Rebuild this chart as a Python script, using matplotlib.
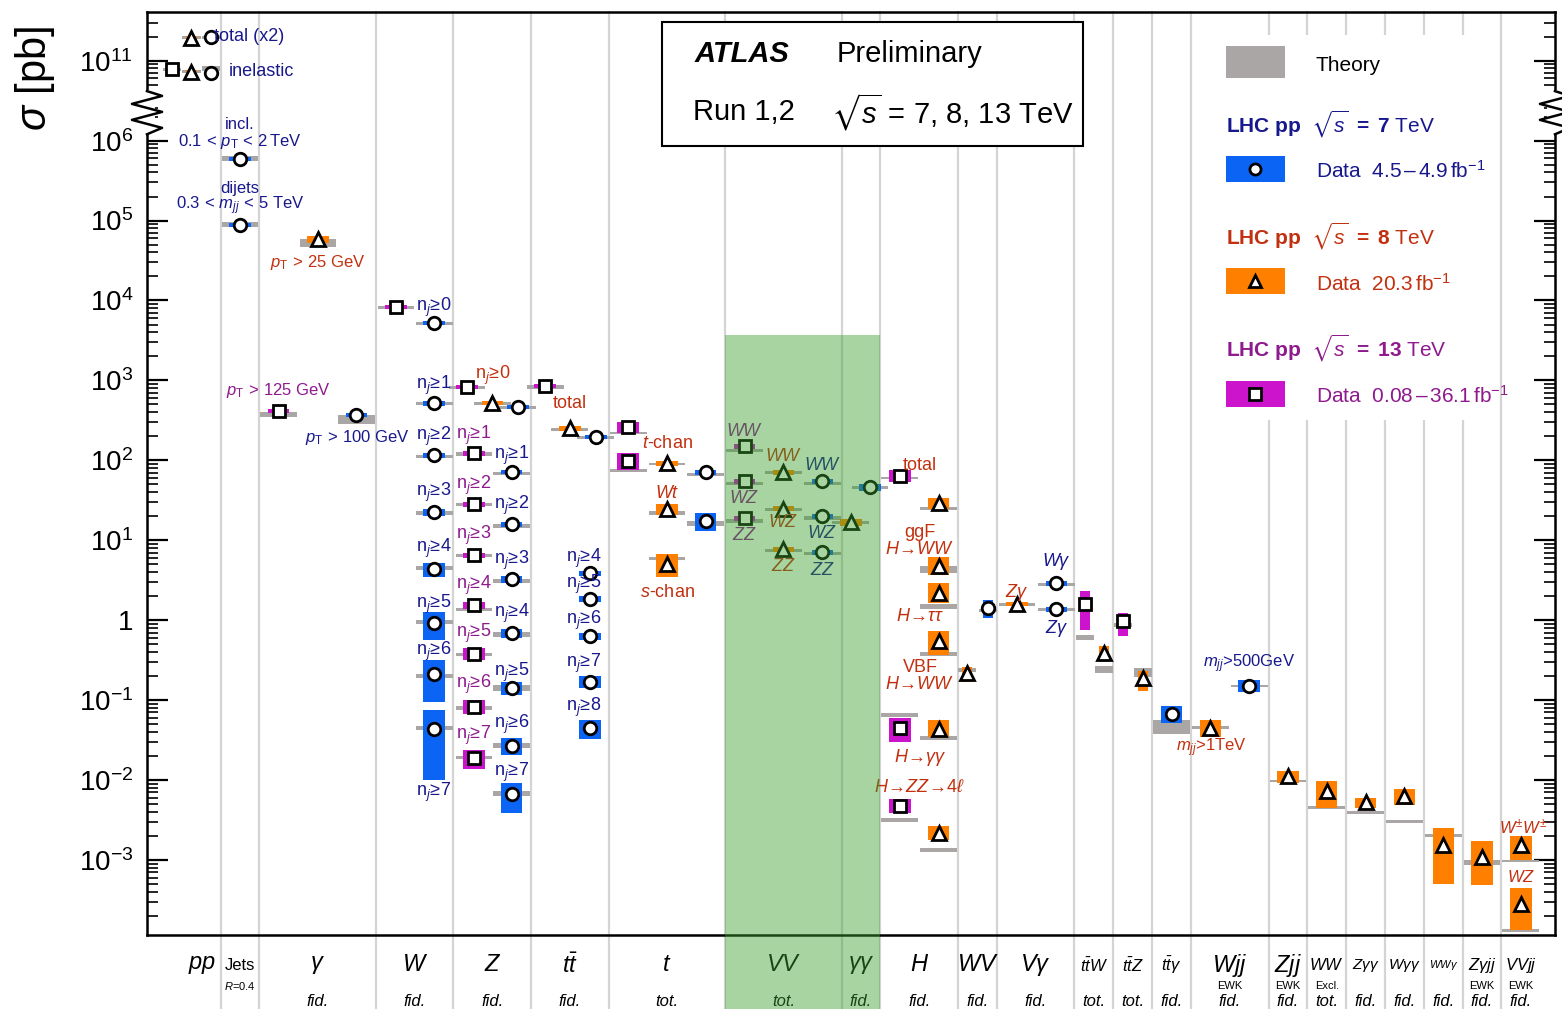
import numpy as np
import matplotlib.pyplot as plt
import matplotlib.transforms as mtransforms
from matplotlib.patches import Rectangle

plt.rcParams['font.family'] = ['Liberation Sans', 'DejaVu Sans']
plt.rcParams['mathtext.fontset'] = 'custom'
plt.rcParams['mathtext.rm'] = 'Liberation Sans'
plt.rcParams['mathtext.it'] = 'Liberation Sans:italic'
plt.rcParams['mathtext.bf'] = 'Liberation Sans:bold'
plt.rcParams['mathtext.sf'] = 'Liberation Sans'
plt.rcParams['mathtext.fallback'] = 'stixsans'

# ---- measurements, one block per centre-of-mass energy ----
# category, column position, sigma [pb], rel. err down/up, theory [pb], rel. theory err
# (pp "total" entries are already scaled x2)
cat_7 = ['pp', 'pp', 'Jets', 'Jets', 'gam',
         'W', 'W', 'W', 'W', 'W', 'W', 'W', 'W',
         'Z', 'Z', 'Z', 'Z', 'Z', 'Z', 'Z', 'Z',
         'tt', 'tt', 'tt', 'tt', 'tt', 'tt',
         't', 't', 'VV', 'VV', 'VV', 'gg', 'WV', 'Vg', 'Vg', 'ttg', 'Wjj']
x_7 = [1.75, 1.75, 2.5, 2.5, 5.5,
       7.5, 7.5, 7.5, 7.5, 7.5, 7.5, 7.5, 7.5,
       9.66, 9.5, 9.5, 9.5, 9.5, 9.5, 9.5, 9.5,
       11.67, 11.52, 11.52, 11.52, 11.52, 11.52,
       14.5, 14.5, 17.5, 17.5, 17.5, 18.73, 21.77, 23.53, 23.53, 26.5, 28.5]
sigma_7 = [1.97e11, 7.0e10, 5.96e5, 8.9e4, 365,
           5160, 516, 115, 22.4, 4.34, 0.917, 0.211, 0.0434,
           460, 70.8, 15.8, 3.25, 0.688, 0.141, 0.0266, 0.00668,
           194, 3.87, 1.83, 0.63, 0.168, 0.0447,
           70.8, 17.3, 54.6, 20.0, 7.08, 46.0, 1.41, 2.9, 1.37, 0.0668, 0.15]
dlo_7 = [0.02, 0.03, 0.06, 0.06, 0.05,
         0.04, 0.06, 0.07, 0.09, 0.19, 0.39, 0.55, 0.77,
         0.04, 0.06, 0.07, 0.09, 0.12, 0.17, 0.22, 0.42,
         0.05, 0.08, 0.08, 0.10, 0.15, 0.28,
         0.08, 0.25, 0.08, 0.08, 0.08, 0.10, 0.25, 0.08, 0.08, 0.22, 0.17]
dhi_7 = [0.02, 0.03, 0.06, 0.06, 0.05,
         0.04, 0.06, 0.07, 0.09, 0.18, 0.37, 0.50, 0.73,
         0.04, 0.06, 0.07, 0.09, 0.12, 0.20, 0.26, 0.38,
         0.05, 0.08, 0.08, 0.10, 0.18, 0.26,
         0.08, 0.26, 0.08, 0.08, 0.08, 0.10, 0.26, 0.08, 0.08, 0.26, 0.20]
theo_7 = [1.96e11, 8.0e10, 5.96e5, 8.9e4, 325,
          5160, 516, 112, 22.0, 4.5, 0.95, 0.20, 0.045,
          460, 68, 15, 3.1, 0.66, 0.141, 0.027, 0.0068,
          194, np.nan, np.nan, np.nan, np.nan, np.nan,
          67, 16.3, 51, 19, 6.8, 46, 1.33, 2.8, 1.35, 0.047, 0.15]
dtheo_7 = [0.02, 0.06, 0.07, 0.07, 0.12,
           0.03, 0.05, 0.05, 0.06, 0.06, 0.06, 0.06, 0.06,
           0.04, 0.05, 0.06, 0.07, 0.08, 0.08, 0.08, 0.08,
           0.05, 0, 0, 0, 0, 0,
           0.04, 0.08, 0.05, 0.05, 0.05, 0.05, 0.05, 0.04, 0.04, 0.19, 0.04]

cat_8 = ['pp', 'pp', 'gam', 'Z', 'tt', 't', 't', 't', 'VV', 'VV', 'VV', 'gg',
         'H', 'H', 'H', 'H', 'H', 'H', 'WV', 'Vg', 'ttW', 'ttZ', 'Wjj', 'Zjj',
         'WWx', 'Zgg', 'Wgg', 'WWg', 'Zgjj', 'VVjj', 'VVjj']
x_8 = [1.25, 1.25, 4.51, 9.0, 11.0, 13.5, 13.5, 13.5, 16.5, 16.5, 16.5, 18.24,
       20.5, 20.5, 20.5, 20.5, 20.5, 20.5, 21.23, 22.52, 24.76, 25.76, 27.5, 29.5,
       30.5, 31.5, 32.5, 33.5, 34.5, 35.5, 35.5]
sigma_8 = [1.93e11, 7.3e10, 5.8e4, 516, 251, 92, 24.4, 5.0, 70.8, 24.8, 7.7, 16.8,
           29.0, 4.73, 2.18, 0.546, 0.0434, 0.00218, 0.218, 1.58, 0.387, 0.188, 0.0447, 0.0112,
           0.00729, 0.0053, 0.0063, 0.00154, 0.00109, 0.00154, 0.000282]
dlo_8 = [0.03, 0.03, 0.09, 0.05, 0.06, 0.07, 0.15, 0.31, 0.07, 0.07, 0.07, 0.10,
         0.15, 0.22, 0.24, 0.33, 0.21, 0.19, 0.22, 0.05, 0.22, 0.31, 0.22, 0.19,
         0.38, 0.16, 0.22, 0.68, 0.56, 0.35, 0.53]
dhi_8 = [0.03, 0.03, 0.10, 0.05, 0.06, 0.07, 0.15, 0.33, 0.07, 0.07, 0.07, 0.10,
         0.18, 0.29, 0.32, 0.33, 0.29, 0.23, 0.19, 0.05, 0.23, 0.23, 0.26, 0.15,
         0.33, 0.12, 0.23, 0.62, 0.59, 0.29, 0.59]
theo_8 = [1.93e11, 7.3e10, 5.3e4, 510, 245, 90, 22, 5.9, 70, 24, 7.5, 16.8,
          25.1, 4.34, 1.5, 0.376, 0.0335, 0.00133, 0.237, 1.55, 0.244, 0.224, 0.045, 0.0097,
          0.00447, 0.00387, 0.0030, 0.0020, 0.00094, 0.00097, 0.00013]
dtheo_8 = [0.02, 0.03, 0.12, 0.04, 0.05, 0.04, 0.06, 0.05, 0.04, 0.04, 0.04, 0.05,
           0.04, 0.10, 0.07, 0.05, 0.05, 0.06, 0.05, 0.03, 0.10, 0.12, 0.03, 0.04,
           0.03, 0.03, 0.04, 0.03, 0.07, 0.04, 0.05]

cat_13 = ['pp', 'gam', 'W', 'Z', 'Z', 'Z', 'Z', 'Z', 'Z', 'Z', 'Z',
          'tt', 't', 't', 'VV', 'VV', 'VV', 'H', 'H', 'H', 'ttW', 'ttZ']
x_13 = [0.75, 3.5, 6.52, 8.35, 8.53, 8.53, 8.53, 8.53, 8.53, 8.53, 8.53,
        10.36, 12.5, 12.5, 15.5, 15.5, 15.5, 19.5, 19.5, 19.5, 24.27, 25.25]
sigma_13 = [7.8e10, 410, 8200, 817, 122, 28.2, 6.49, 1.54, 0.376, 0.0818, 0.0188,
            841, 258, 97, 150, 54.6, 18.8, 63, 0.0447, 0.00473, 1.58, 0.97]
dlo_13 = [0.03, 0.06, 0.04, 0.04, 0.07, 0.07, 0.08, 0.10, 0.16, 0.19, 0.28,
          0.05, 0.15, 0.22, 0.08, 0.07, 0.07, 0.16, 0.33, 0.19, 0.53, 0.35]
dhi_13 = [0.03, 0.06, 0.04, 0.04, 0.07, 0.07, 0.08, 0.10, 0.19, 0.23, 0.26,
          0.05, 0.18, 0.26, 0.08, 0.07, 0.07, 0.19, 0.33, 0.23, 0.45, 0.26]
theo_13 = [7.8e10, 376, 8200, 817, 120, 28, 6.4, 1.37, 0.37, 0.08, 0.019,
           832, 220, 75, 133, 51, 17.5, 60, 0.065, 0.00316, 0.613, 0.866]
dtheo_13 = [0.03, 0.07, 0.04, 0.04, 0.05, 0.05, 0.05, 0.05, 0.05, 0.05, 0.05,
            0.05, 0.04, 0.05, 0.05, 0.05, 0.05, 0.04, 0.05, 0.05, 0.07, 0.06]

# category boundaries and axis labels
separators = [2, 3, 6, 8, 10, 12, 15, 18, 19, 21, 22, 24, 25, 26, 27, 29, 30, 31, 32, 33, 34, 35]
cat_pos = [1.52, 2.5, 4.5, 7.0, 9.0, 11.0, 13.5, 16.5, 18.5, 20.0, 21.5, 23.0,
           24.5, 25.5, 26.5, 28.0, 29.5, 30.5, 31.5, 32.5, 33.5, 34.5, 35.5]
cat_labels = [r'$pp$', 'Jets', r'$\gamma$', r'$W$', r'$Z$', r'$t\bar{t}$', r'$t$', r'$VV$',
              r'$\gamma\gamma$', r'$H$', r'$WV$', r'$V\gamma$', r'$t\bar{t}W$', r'$t\bar{t}Z$',
              r'$t\bar{t}\gamma$', r'$Wjj$', r'$Zjj$', r'$WW$', r'$Z\gamma\gamma$',
              r'$W\gamma\gamma$', r'$WW\gamma$', r'$Z\gamma jj$', r'$VVjj$']
cat_sub = ['', r'$R$=0.4', '', '', '', '', '', '', '', '', '', '', '', '', '',
           'EWK', 'EWK', 'Excl.', '', '', '', 'EWK', 'EWK']
cat_phase = ['', '', 'fid.', 'fid.', 'fid.', 'fid.', 'tot.', 'tot.', 'fid.', 'fid.', 'fid.',
             'fid.', 'tot.', 'tot.', 'fid.', 'fid.', 'fid.', 'tot.', 'fid.', 'fid.', 'fid.',
             'fid.', 'fid.']
cat_size = [17, 12, 17, 17, 17, 17, 17, 17, 17, 17, 17, 17, 12, 12, 12, 17, 17, 12, 11, 11, 8, 12, 12]

y_major = [1e-3, 1e-2, 1e-1, 1, 1e1, 1e2, 1e3, 1e4, 1e5, 1e6, 1e11]
y_major_labels = [r'$10^{-3}$', r'$10^{-2}$', r'$10^{-1}$', '1', r'$10^{1}$', r'$10^{2}$',
                  r'$10^{3}$', r'$10^{4}$', r'$10^{5}$', r'$10^{6}$', r'$10^{11}$']

BLUE, ORANGE, MAGENTA = '#0b64f4', '#ff8000', '#cc14cc'
NAVY, RED, PURPLE = '#18188e', '#c2300f', '#8e1a8e'
THEORY = '#aaa6a6'
NARROW = {'pp', 'WV', 'ttW', 'ttZ'}

# text labels: column, plotted level (log10 with the broken range folded), text, colour, size, ha
nj = lambda k: r'$\mathrm{n}_{j}\!\geq\!%d$' % k
annotations = [
    (1.83, 7.30, 'total (x2)', NAVY, 13, 'left'),
    (2.22, 6.86, 'inelastic', NAVY, 13, 'left'),
    (2.5, 6.20, 'incl.', NAVY, 12, 'center'),
    (2.5, 5.99, r'0.1$\,<\,p_{\mathrm{T}}\,<\,$2$\,$TeV', NAVY, 12, 'center'),
    (2.5, 5.40, 'dijets', NAVY, 12, 'center'),
    (2.5, 5.18, r'0.3$\,<\,m_{jj}\,<\,$5 TeV', NAVY, 12, 'center'),
    (4.51, 4.475, r'$p_{\mathrm{T}}\,>\,$25 GeV', RED, 12, 'center'),
    (3.5, 2.875, r'$p_{\mathrm{T}}\,>\,$125 GeV', PURPLE, 12, 'center'),
    (5.51, 2.29, r'$p_{\mathrm{T}}\,>\,$100 GeV', NAVY, 12, 'center'),
    (7.5, 3.91, nj(0), NAVY, 13, 'center'),
    (7.5, 2.94, nj(1), NAVY, 13, 'center'), (7.5, 2.30, nj(2), NAVY, 13, 'center'),
    (7.5, 1.60, nj(3), NAVY, 13, 'center'), (7.5, 0.90, nj(4), NAVY, 13, 'center'),
    (7.5, 0.20, nj(5), NAVY, 13, 'center'), (7.5, -0.39, nj(6), NAVY, 13, 'center'),
    (7.5, -2.16, nj(7), NAVY, 13, 'center'),
    (9.02, 3.06, nj(0), RED, 13, 'center'),
    (8.53, 2.31, nj(1), PURPLE, 13, 'center'), (8.53, 1.69, nj(2), PURPLE, 13, 'center'),
    (8.53, 1.06, nj(3), PURPLE, 13, 'center'), (8.53, 0.44, nj(4), PURPLE, 13, 'center'),
    (8.53, -0.16, nj(5), PURPLE, 13, 'center'), (8.53, -0.81, nj(6), PURPLE, 13, 'center'),
    (8.53, -1.44, nj(7), PURPLE, 13, 'center'),
    (9.51, 2.06, nj(1), NAVY, 13, 'center'), (9.51, 1.43, nj(2), NAVY, 13, 'center'),
    (9.51, 0.75, nj(3), NAVY, 13, 'center'), (9.51, 0.09, nj(4), NAVY, 13, 'center'),
    (9.51, -0.65, nj(5), NAVY, 13, 'center'), (9.51, -1.31, nj(6), NAVY, 13, 'center'),
    (9.51, -1.91, nj(7), NAVY, 13, 'center'),
    (11.0, 2.71, 'total', RED, 13, 'center'),
    (11.36, 0.775, nj(4), NAVY, 13, 'center'), (11.36, 0.45, nj(5), NAVY, 13, 'center'),
    (11.36, 0.0, nj(6), NAVY, 13, 'center'), (11.36, -0.54, nj(7), NAVY, 13, 'center'),
    (11.36, -1.09, nj(8), NAVY, 13, 'center'),
    (13.5, 2.21, r'$t$-chan', RED, 13, 'center'),
    (13.5, 1.59, r'$Wt$', RED, 13, 'center'),
    (13.5, 0.35, r'$s$-chan', RED, 13, 'center'),
    (15.5, 2.36, r'$WW$', PURPLE, 13, 'center'), (15.5, 1.525, r'$WZ$', PURPLE, 13, 'center'),
    (15.5, 1.06, r'$ZZ$', PURPLE, 13, 'center'),
    (16.5, 2.05, r'$WW$', RED, 13, 'center'), (16.5, 1.225, r'$WZ$', RED, 13, 'center'),
    (16.5, 0.675, r'$ZZ$', RED, 13, 'center'),
    (17.5, 1.94, r'$WW$', NAVY, 13, 'center'), (17.5, 1.09, r'$WZ$', NAVY, 13, 'center'),
    (17.5, 0.625, r'$ZZ$', NAVY, 13, 'center'),
    (20.02, 1.94, 'total', RED, 13, 'center'),
    (20.02, 1.10, 'ggF', RED, 13, 'center'),
    (20.02, 0.89, r'$H\!\rightarrow\!WW$', RED, 13, 'center'),
    (20.02, 0.05, r'$H\!\rightarrow\!\tau\tau$', RED, 13, 'center'),
    (20.02, -0.59, 'VBF', RED, 13, 'center'),
    (20.02, -0.80, r'$H\!\rightarrow\!WW$', RED, 13, 'center'),
    (20.02, -1.725, r'$H\!\rightarrow\!\gamma\gamma$', RED, 13, 'center'),
    (20.02, -2.10, r'$H\!\rightarrow\!ZZ\!\rightarrow\!4\ell$', RED, 13, 'center'),
    (22.52, 0.35, r'$Z\gamma$', RED, 13, 'center'),
    (23.53, 0.74, r'$W\gamma$', NAVY, 13, 'center'),
    (23.53, -0.11, r'$Z\gamma$', NAVY, 13, 'center'),
    (28.5, -0.54, r'$m_{jj}$>500GeV', NAVY, 12, 'center'),
    (27.52, -1.60, r'$m_{jj}$>1TeV', RED, 12, 'center'),
    (35.55, -2.59, r'$W^{\pm}W^{\pm}$', RED, 12, 'center'),
    (35.5, -3.21, r'$WZ$', RED, 12, 'center'),
]

# ---- broken log axis: 10^6.4 .. 10^10.6 squeezed into 0.2 decades ----
LO_CUT, HI_CUT, GAP = 6.4, 10.6, 0.2


def fwd(v):
    L = np.log10(np.clip(np.asarray(v, float), 1e-300, None))
    mid = LO_CUT + (L - LO_CUT) * GAP / (HI_CUT - LO_CUT)
    return np.where(L <= LO_CUT, L, np.where(L >= HI_CUT, L - (HI_CUT - LO_CUT) + GAP, mid))


def inv(y):
    y = np.asarray(y, float)
    mid = LO_CUT + (y - LO_CUT) * (HI_CUT - LO_CUT) / GAP
    L = np.where(y <= LO_CUT, y, np.where(y >= LO_CUT + GAP, y + (HI_CUT - LO_CUT) - GAP, mid))
    return 10.0 ** L


fig = plt.figure(figsize=(15.62, 10.09), dpi=100)
ax = fig.add_axes([147 / 1562, 1 - 935 / 1009, 1408 / 1562, 923 / 1009])
ax.set_yscale('function', functions=(fwd, inv))
ax.set_xlim(0.104, 36.38)
ax.set_ylim(inv(-3.94), inv(7.61))
blend = mtransforms.blended_transform_factory(ax.transData, ax.transAxes)

for c in separators:
    ax.plot([c, c], [-0.085, 1], transform=blend, color='#d4d4d4', lw=1.6,
            clip_on=False, zorder=1)


def draw_set(cats, xs, sig, lo, hi, th, dth, fill, marker, ms):
    for c, x, s, l, h, t, dt in zip(cats, xs, sig, lo, hi, th, dth):
        narrow = c in NARROW
        wt = 0.47 if narrow else 0.95
        wd = 0.27 if narrow else 0.55
        if not np.isnan(t):
            tlo = min(t * (1 - dt), t * 10 ** -0.018)
            thi = max(t * (1 + dt), t * 10 ** 0.018)
            ax.bar(x, thi - tlo, bottom=tlo, width=wt, color=THEORY, lw=0, zorder=2)
        dlo = min(s * (1 - l), s * 10 ** -0.025)
        dhi = max(s * (1 + h), s * 10 ** 0.025)
        ax.bar(x, dhi - dlo, bottom=dlo, width=wd, color=fill, lw=0, zorder=3)
    ax.plot(xs, sig, ls='none', marker=marker, ms=ms, mfc='white', mec='black',
            mew=2.0, zorder=4)


draw_set(cat_7, x_7, sigma_7, dlo_7, dhi_7, theo_7, dtheo_7, BLUE, 'o', 9)
draw_set(cat_8, x_8, sigma_8, dlo_8, dhi_8, theo_8, dtheo_8, ORANGE, '^', 10)
draw_set(cat_13, x_13, sigma_13, dlo_13, dhi_13, theo_13, dtheo_13, MAGENTA, 's', 9)

for x, lev, txt, col, size, ha in annotations:
    ax.text(x, inv(lev), txt, color=col, fontsize=size, ha=ha, va='center', zorder=5)

# category labels below the frame
for x, lab, sub, ph, size in zip(cat_pos, cat_labels, cat_sub, cat_phase, cat_size):
    ax.text(x, -0.033, lab, transform=blend, ha='center', va='center', fontsize=size,
            clip_on=False, zorder=5)
    if sub:
        ax.text(x, -0.055, sub, transform=blend, ha='center', va='center', fontsize=8,
                clip_on=False, zorder=5)
    if ph:
        ax.text(x, -0.072, ph, transform=blend, ha='center', va='center', fontsize=12,
                style='italic', clip_on=False, zorder=5)

# green band over the diboson columns, running down through the labels
ax.bar(17, inv(3.5625) - inv(-3.94), bottom=inv(-3.94), width=4, color='#399f2d',
       alpha=0.44, lw=0, zorder=6)
ax.add_patch(Rectangle((15, -0.085), 4, 0.085, transform=blend, color='#399f2d',
                       alpha=0.44, lw=0, clip_on=False, zorder=6))

# y axis
ax.set_xticks([])
ax.set_yticks(y_major)
ax.set_yticklabels(y_major_labels, fontsize=20)
minor = [m * 10.0 ** d for d in range(-4, 6) for m in range(2, 10)]
minor += [2e6, 3e6, 5e10, 6e10, 7e10, 8e10, 9e10, 2e11, 3e11]
ax.set_yticks(minor, minor=True)
ax.tick_params(axis='y', which='both', direction='in', left=True, right=True, pad=10)
ax.tick_params(axis='y', which='major', length=15, width=1.6)
ax.tick_params(axis='y', which='minor', length=8, width=1.2)
ax.yaxis.set_minor_formatter(plt.NullFormatter())
for sp in ax.spines.values():
    sp.set_linewidth(1.8)

# zigzag marking the axis break, on both sides
zz_x = [0, 0.0107, -0.0107, 0.0107, -0.0107, 0.0107, 0]
zz_lev = [6.62, 6.56, 6.46, 6.36, 6.26, 6.16, 6.08]
for side in (0, 1):
    tr = mtransforms.blended_transform_factory(ax.transAxes, ax.transData)
    ax.add_patch(Rectangle((side - 0.006, inv(6.07)), 0.012, inv(6.63) - inv(6.07),
                           transform=tr, color='white', lw=0, clip_on=False, zorder=10))
    ax.plot([side + v for v in zz_x], inv(zz_lev), transform=tr, color='black', lw=1.8,
            clip_on=False, zorder=11)

fig.text(35 / 1562, 1 - 78 / 1009, r'$\sigma$ [pb]', rotation=90, ha='center',
         va='center', fontsize=30)

# ATLAS box
ax.add_patch(Rectangle((0.3658, 0.8548), 0.299, 0.1342, transform=ax.transAxes,
                       facecolor='white', edgecolor='black', lw=1.5, zorder=7))
ax.text(0.389, 0.9545, 'ATLAS', transform=ax.transAxes, fontsize=21, weight='bold',
        style='italic', va='center', zorder=8)
ax.text(0.4895, 0.9545, 'Preliminary', transform=ax.transAxes, fontsize=21,
        va='center', zorder=8)
ax.text(0.388, 0.8917, 'Run 1,2', transform=ax.transAxes, fontsize=21, va='center', zorder=8)
ax.text(0.4858, 0.8917, r'$\sqrt{s}$ = 7, 8, 13 TeV', transform=ax.transAxes, fontsize=21,
        va='center', zorder=8)

# legend
ax.add_patch(Rectangle((0.751, 0.558), 0.209, 0.417, transform=ax.transAxes,
                       facecolor='white', lw=0, zorder=1.5))
ax.add_patch(Rectangle((0.766, 0.928), 0.042, 0.035, transform=ax.transAxes,
                       color=THEORY, lw=0, zorder=3))
ax.text(0.830, 0.9415, 'Theory', transform=ax.transAxes, fontsize=15, va='center', zorder=3)
legend_rows = [
    (0.8787, 0.816, 0.828, '7', r'Data  4.5$\,$–$\,$4.9$\,$fb$^{-1}$', BLUE, NAVY, 'o', 9),
    (0.757, 0.6945, 0.705, '8', r'Data  20.3$\,$fb$^{-1}$', ORANGE, RED, '^', 10),
    (0.635, 0.572, 0.584, '13', r'Data  0.08$\,$–$\,$36.1$\,$fb$^{-1}$', MAGENTA, PURPLE, 's', 9),
]
for yh, yb, yt, e, dtxt, fill, tcol, mk, ms in legend_rows:
    ax.text(0.766, yh, r'$\mathbf{LHC\ pp}\ \ \sqrt{s}\ \mathbf{=\ %s}$ TeV' % e,
            transform=ax.transAxes, fontsize=15, color=tcol, va='center', zorder=3)
    ax.add_patch(Rectangle((0.766, yb), 0.042, 0.028, transform=ax.transAxes,
                           color=fill, lw=0, zorder=3))
    ax.plot([0.787], [yb + 0.014], transform=ax.transAxes, marker=mk, ms=ms - 1,
            mfc='white', mec='black', mew=2.0, zorder=4)
    ax.text(0.830, yt, dtxt, transform=ax.transAxes, fontsize=15, color=tcol,
            va='center', zorder=3)

fig.savefig('out.png', dpi=100)
